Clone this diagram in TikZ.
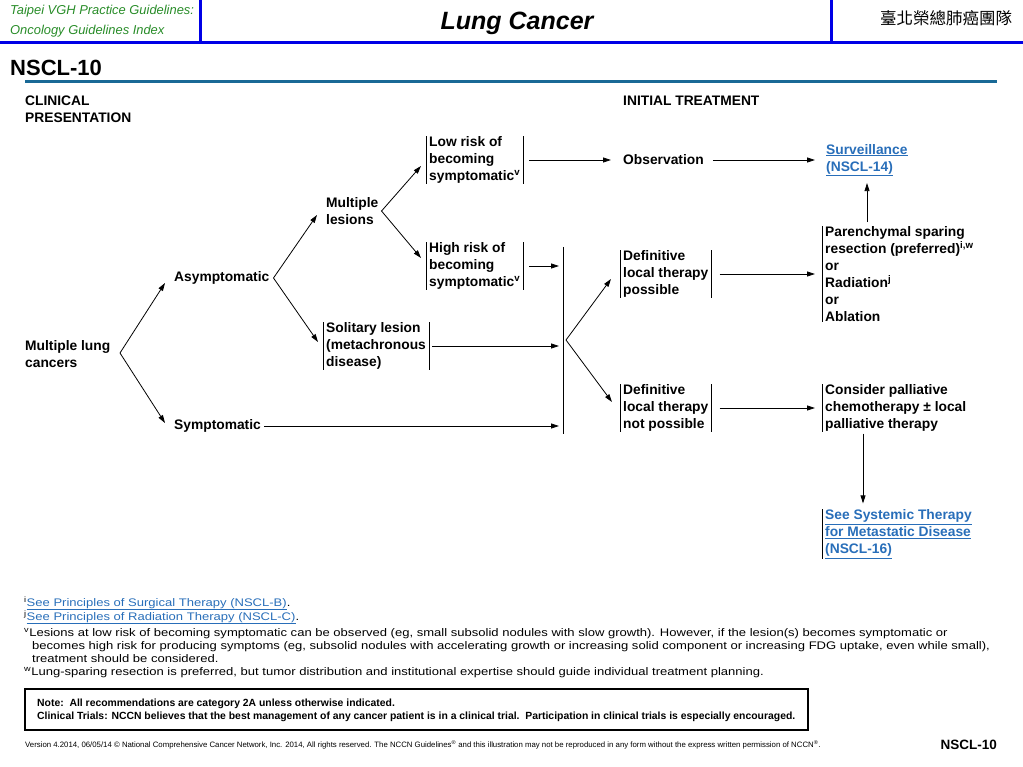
\documentclass[tikz,border=0pt]{standalone}
\usepackage{fontspec}
\setmainfont{Liberation Sans}
\newfontfamily\cjkfont{Noto Sans CJK TC}
\newfontfamily\widefont[FakeStretch=1.185]{Liberation Sans}
\usetikzlibrary{arrows.meta,positioning}
\definecolor{hdrblue}{RGB}{0,0,230}
\definecolor{hdrgreen}{RGB}{40,140,40}
\definecolor{ruleblue}{RGB}{25,105,150}
\definecolor{linkblue}{RGB}{40,110,185}
\newcommand{\lnk}[1]{\textcolor{linkblue}{\underline{#1}}}

\begin{document}
\begin{tikzpicture}[x=1pt,y=-1pt,
  txt/.style={anchor=west,align=left,inner xsep=3pt,inner ysep=0pt,font=\fontsize{13.8}{17}\selectfont\bfseries},
  line/.style={anchor=base west,inner sep=0pt},
  foot/.style={line,font=\widefont\fontsize{11}{13}\selectfont},
  notes/.style={line,font=\fontsize{10.4}{13}\selectfont\bfseries},
  bar/.style={line width=0.8pt},
  arr/.style={line width=0.8pt,-{Triangle[length=8pt,width=5pt]}}]
\def\bars#1{\draw[bar] (#1.north west) -- (#1.south west) (#1.north east) -- (#1.south east);}
\def\lbar#1{\draw[bar] (#1.north west) -- (#1.south west);}
\useasboundingbox (0,0) rectangle (1023,767);

% header
\draw[hdrblue,line width=3pt] (0,43) -- (1023,43) (200,0) -- (200,43) (831,0) -- (831,43);
\node[line,font=\fontsize{12.9}{14}\selectfont\itshape,text=hdrgreen] (vgh1) at (10,15) {Taipei VGH Practice Guidelines:};
\node[line,font=\fontsize{12.9}{14}\selectfont\itshape,text=hdrgreen] (vgh2) at (10,35) {Oncology Guidelines Index};
\node[anchor=base,inner sep=0pt,font=\fontsize{25}{28}\selectfont\bfseries\itshape] (title) at (517,30) {Lung Cancer};
\node[inner sep=0pt,font=\fontsize{16.5}{18}\selectfont\cjkfont] (team) at (946,18) {臺北榮總肺癌團隊};
\node[line,font=\fontsize{22}{26}\selectfont\bfseries] (page) at (10,76) {NSCL-10};
\draw[ruleblue,line width=3pt] (25,82) -- (997,82);

% column heads
\node[line,font=\fontsize{13.8}{17}\selectfont\bfseries,align=left] (clin) at (25,123) {CLINICAL\\PRESENTATION};
\node[line,font=\fontsize{13.8}{17}\selectfont\bfseries] (init) at (623,106) {INITIAL TREATMENT};

% presentation
\node[txt] (mlc) at (22,354) {Multiple lung\\cancers};
\node[txt] (asym) at (171,278) {Asymptomatic};
\node[txt] (symp) at (171,426) {Symptomatic};
\node[txt] (mles) at (323,211) {Multiple\\lesions};
\node[txt] (soli) at (323,346) {Solitary lesion\\(metachronous\\disease)};
\node[txt] (lowr) at (426,160) {Low risk of\\becoming\\symptomatic\textsuperscript{v}};
\node[txt] (highr) at (426,266) {High risk of\\becoming\\symptomatic\textsuperscript{v}};
\bars{soli} \bars{lowr} \bars{highr}

% treatment
\node[txt] (obs) at (620,160) {Observation};
\node[txt] (surv) at (823,160) {\lnk{Surveillance}\\\lnk{(NSCL-14)}};
\node[txt] (dpos) at (620,274) {Definitive\\local therapy\\possible};
\node[txt] (dnot) at (620,408) {Definitive\\local therapy\\not possible};
\node[txt] (pars) at (822,274) {Parenchymal sparing\\resection (preferred)\textsuperscript{i,w}\\or\\Radiation\textsuperscript{j}\\or\\Ablation};
\node[txt] (pall) at (822,408) {Consider palliative\\chemotherapy ± local\\palliative therapy};
\node[txt] (syst) at (822,534) {\lnk{See Systemic Therapy}\\\lnk{for Metastatic Disease}\\\lnk{(NSCL-16)}};
\bars{dpos} \bars{dnot}
\lbar{pars} \lbar{pall} \lbar{syst}

% forks and merge
\coordinate (f1) at (120,353);
\coordinate (f4) at (566,340);
\coordinate (m1) at (563,247);
\coordinate (m2) at (563,434);
\coordinate (mt) at (559,0);
\coordinate (rt) at (815,0);
\coordinate (ux) at (867,0);
\coordinate (dx) at (863,0);
\draw[bar] (m1) -- (m2);

\draw[arr] (f1) -- ([xshift=-6pt,yshift=-5pt]asym.west);
\draw[arr] (f1) -- ([xshift=-6pt,yshift=3pt]symp.west);
\draw[arr] ([xshift=1pt]asym.east) -- ([xshift=-6pt,yshift=-4pt]mles.west);
\draw[arr] ([xshift=1pt]asym.east) -- ([xshift=-5pt,yshift=4pt]soli.west);
\draw[arr] (mles.east) -- ([xshift=-5pt,yshift=-6pt]lowr.west);
\draw[arr] (mles.east) -- ([xshift=-5pt,yshift=8pt]highr.west);
\draw[arr] (f4) -- ([xshift=-9pt,yshift=-5pt]dpos.west);
\draw[arr] (f4) -- ([xshift=-8pt,yshift=6pt]dnot.west);

\draw[arr] ([xshift=6pt]lowr.east) -- ([xshift=-9pt]obs.west);
\draw[arr] ([xshift=6pt]obs.east) -- (obs.east -| rt);
\draw[arr] ([xshift=6pt]highr.east) -- (highr.east -| mt);
\draw[arr] ([xshift=3pt]soli.east) -- (soli.east -| mt);
\draw[arr] (symp.east) -- (symp.east -| mt);
\draw[arr] ([xshift=8pt]dpos.east) -- (dpos.east -| rt);
\draw[arr] ([xshift=8pt]dnot.east) -- (dnot.east -| rt);
\draw[arr,shorten <=4pt,shorten >=7pt] (pars.north -| ux) -- (surv.south -| ux);
\draw[arr,shorten <=2pt,shorten >=6pt] (pall.south -| dx) -- (syst.north -| dx);

% footnotes
\node[foot] (fi) at (24,606) {\textsuperscript{i}\lnk{See Principles of Surgical Therapy (NSCL-B)}.};
\node[foot] (fj) at (24,620) {\textsuperscript{j}\lnk{See Principles of Radiation Therapy (NSCL-C)}.};
\node[foot] (fv) at (24,636) {\textsuperscript{v}Lesions at low risk of becoming symptomatic can be observed (eg, small subsolid nodules with slow growth). However, if the lesion(s) becomes symptomatic or};
\node[foot] (fv2) at (32,649) {becomes high risk for producing symptoms (eg, subsolid nodules with accelerating growth or increasing solid component or increasing FDG uptake, even while small),};
\node[foot] (fv3) at (32,662) {treatment should be considered.};
\node[foot] (fw) at (24,675) {\textsuperscript{w}Lung-sparing resection is preferred, but tumor distribution and institutional expertise should guide individual treatment planning.};

% note box
\draw[line width=1.5pt] (25,689) rectangle (808,730);
\node[notes] (note) at (37,706) {Note:\ \ All recommendations are category 2A unless otherwise indicated.};
\node[notes] (trials) at (37,719) {Clinical Trials: NCCN believes that the best management of any cancer patient is in a clinical trial.\ \ Participation in clinical trials is especially encouraged.};

% bottom line
\node[line,font=\fontsize{7.8}{9}\selectfont] (vers) at (25,747) {Version 4.2014, 06/05/14 © National Comprehensive Cancer Network, Inc. 2014, All rights reserved. The NCCN Guidelines\textsuperscript{®} and this illustration may not be reproduced in any form without the express written permission of NCCN\textsuperscript{®}.};
\node[anchor=base east,inner sep=0pt,font=\fontsize{13.5}{16}\selectfont\bfseries] (pageb) at (997,749) {NSCL-10};
\end{tikzpicture}
\end{document}
